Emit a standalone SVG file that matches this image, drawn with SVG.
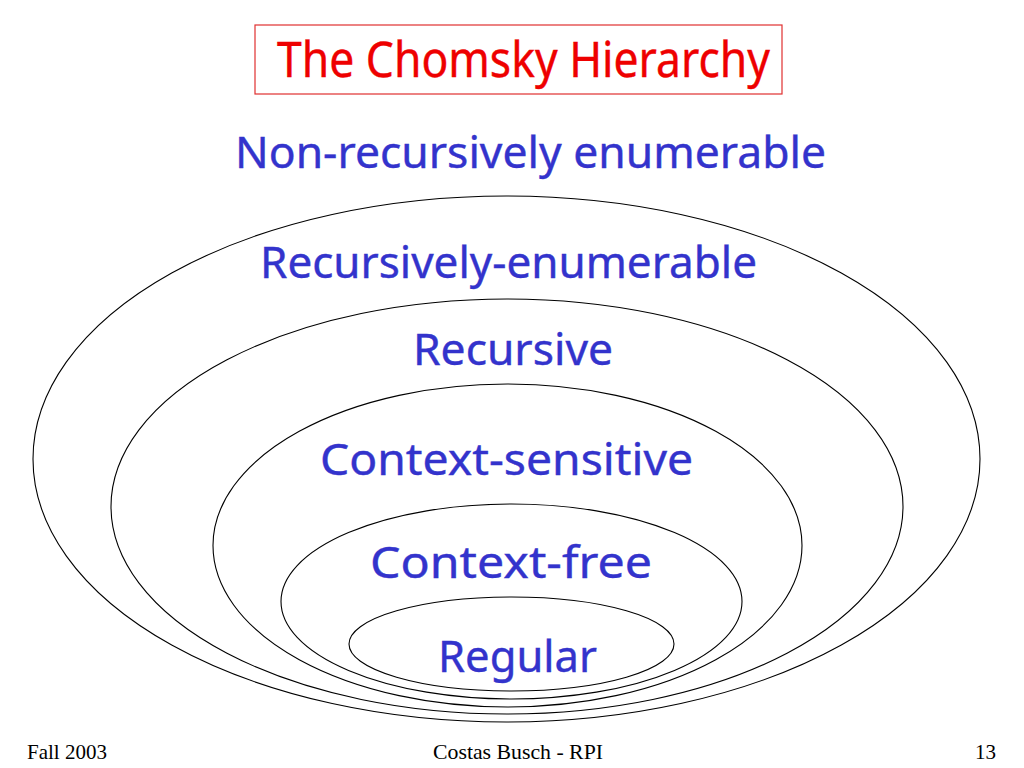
<svg xmlns="http://www.w3.org/2000/svg" width="1024" height="768" viewBox="0 0 1024 768">
<style>
.bg{fill:#ffffff}
.ell{fill:none;stroke:#000000;stroke-width:1.1}
.lbl{font-family:"Noto Sans","DejaVu Sans",sans-serif;font-size:44px;fill:#3333CC;stroke:#3333CC;stroke-width:0.4}
.title{font-family:"Noto Sans","DejaVu Sans",sans-serif;font-size:49px;fill:#EE0000;stroke:#EE0000;stroke-width:0.4}
.tbox{fill:#ffffff;stroke:#E03030;stroke-width:1.2}
.foot{font-family:"Liberation Serif","Times New Roman",serif;font-size:21px;fill:#000000}
</style>
<rect class="bg" x="0" y="0" width="1024" height="768"/>
<g id="title">
<rect class="tbox" x="255" y="25" width="527" height="69"/>
<text class="title" x="277" y="77" textLength="493" lengthAdjust="spacingAndGlyphs">The Chomsky Hierarchy</text>
</g>
<g id="non-re">
<text class="lbl" x="235" y="168" textLength="591" lengthAdjust="spacingAndGlyphs">Non-recursively enumerable</text>
</g>
<g id="re">
<ellipse class="ell" cx="506.5" cy="459" rx="473.5" ry="263"/>
<text class="lbl" x="260" y="278" textLength="497" lengthAdjust="spacingAndGlyphs">Recursively-enumerable</text>
</g>
<g id="recursive">
<ellipse class="ell" cx="507" cy="506.5" rx="396" ry="207.5"/>
<text class="lbl" x="413" y="365" textLength="200" lengthAdjust="spacingAndGlyphs">Recursive</text>
</g>
<g id="context-sensitive">
<ellipse class="ell" cx="507.5" cy="545.5" rx="294.5" ry="161.5"/>
<text class="lbl" x="320" y="475" textLength="373" lengthAdjust="spacingAndGlyphs">Context-sensitive</text>
</g>
<g id="context-free">
<ellipse class="ell" cx="511.5" cy="601.5" rx="230.5" ry="97.5"/>
<text class="lbl" x="370" y="578" textLength="282" lengthAdjust="spacingAndGlyphs">Context-free</text>
</g>
<g id="regular">
<ellipse class="ell" cx="511.5" cy="644" rx="162.5" ry="47"/>
<text class="lbl" x="438" y="672" textLength="159" lengthAdjust="spacingAndGlyphs">Regular</text>
</g>
<g id="connectors"></g>
<g id="footer">
<text class="foot" x="27" y="759">Fall 2003</text>
<text class="foot" x="433" y="759" textLength="170" lengthAdjust="spacingAndGlyphs">Costas Busch - RPI</text>
<text class="foot" x="996" y="759" text-anchor="end">13</text>
</g>
</svg>
